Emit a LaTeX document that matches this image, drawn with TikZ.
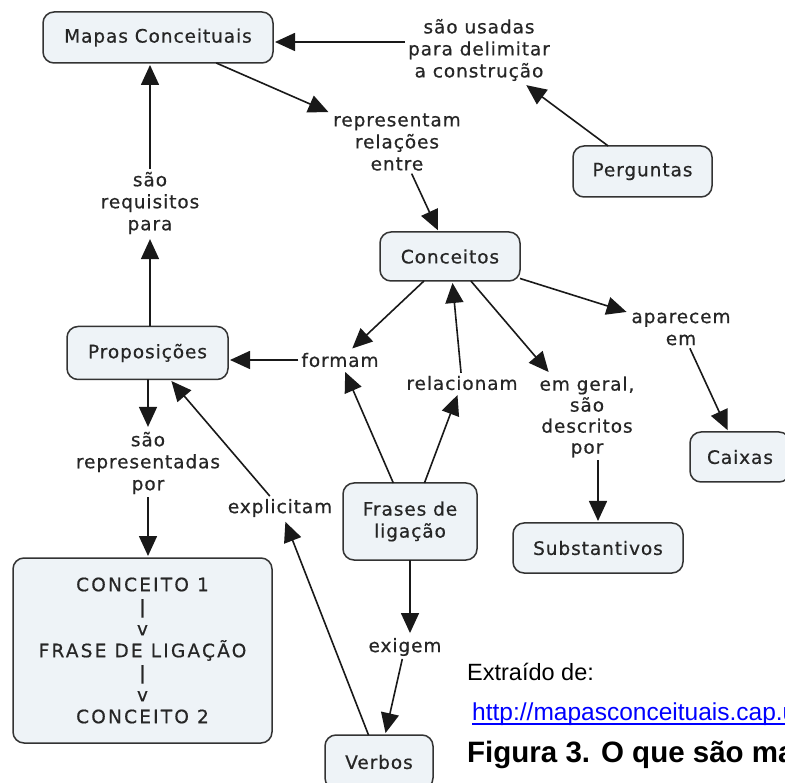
\documentclass[tikz,border=0pt]{standalone}
\usepackage{fontspec}
\setmainfont{DejaVu Sans}
\newfontfamily\cmapfont[LetterSpace=5,FakeBold=0.6]{DejaVu Sans}
\newfontfamily\capsfont[LetterSpace=12,FakeBold=0.6]{DejaVu Sans}
\newfontfamily\arialfont{Liberation Sans}
\usetikzlibrary{arrows.meta}
\definecolor{boxfill}{HTML}{EEF3F7}
\definecolor{boxline}{HTML}{333333}
\definecolor{txt}{HTML}{262626}
\definecolor{linkblue}{RGB}{0,0,255}
\begin{document}
\begin{tikzpicture}[x=1pt,y=-1pt,
  cbox/.style={draw=boxline, line width=1.5pt, fill=boxfill, rounded corners=11pt,
    inner sep=0pt, outer sep=0pt, align=center, text=txt,
    font=\cmapfont\fontsize{18.5}{22}\selectfont},
  lbl/.style={inner sep=3pt, outer sep=0pt, align=center, text=txt,
    font=\cmapfont\fontsize{18.5}{22}\selectfont},
  arr/.style={line width=1.6pt, draw=black!90, -{Triangle[length=20pt,width=18pt]}, shorten >=2pt}
]
\clip (0,0) rectangle (785,783);
\fill[white] (0,0) rectangle (785,783);

% concept boxes
\node[cbox, minimum width=230pt, minimum height=51pt] (mapas) at (158,37.5) {Mapas Conceituais};
\node[cbox, minimum width=139pt, minimum height=51pt] (perg) at (642.5,171.5) {Perguntas};
\node[cbox, minimum width=140pt, minimum height=49pt] (conc) at (450,256.5) {Conceitos};
\node[cbox, minimum width=161pt, minimum height=53pt] (prop) at (147.5,353) {Proposições};
\node[cbox, minimum width=100pt, minimum height=50pt] (caixas) at (740,457) {Caixas};
\node[cbox, minimum width=134pt, minimum height=77pt] (frases) at (410,521.5) {Frases de\\ligação};
\node[cbox, minimum width=170pt, minimum height=50pt] (subst) at (598,548) {Substantivos};
\node[cbox, minimum width=259pt, minimum height=185pt, font=\capsfont\fontsize{18.5}{22}\selectfont] (model) at (142.5,650.5)
  {CONCEITO 1\\|\\v\\FRASE DE LIGAÇÃO\\|\\v\\CONCEITO 2};
\node[cbox, minimum width=108pt, minimum height=54pt] (verbos) at (379,762) {Verbos};

% linking phrases
\node[lbl] (usadas) at (479,50) {são usadas\\para delimitar\\a construção};
\node[lbl] (repr) at (397,142) {representam\\relações\\entre};
\node[lbl] (requis) at (150,203) {são\\requisitos\\para};
\node[lbl] (formam) at (340,360) {formam};
\node[lbl] (relac) at (462,383) {relacionam};
\node[lbl] (aparec) at (681,329) {aparecem\\em};
\node[lbl, font=\cmapfont\fontsize{18.5}{21}\selectfont] (emgeral) at (587,417) {em geral,\\são\\descritos\\por};
\node[lbl] (reprpor) at (148,463) {são\\representadas\\por};
\node[lbl] (explic) at (280,508) {explicitam};
\node[lbl] (exigem) at (405,647) {exigem};

% connectors
\draw[arr] ([yshift=8pt]usadas.west) -- ([yshift=8pt]usadas.west -| mapas.east);
\draw[arr] (perg) -- (usadas);
\draw[arr] (mapas) -- (repr);
\draw[arr] (repr) -- (conc);
\draw[arr] (conc) -- (aparec);
\draw[arr] (aparec) -- (caixas);
\draw[arr] (conc) -- (formam);
\draw[arr] (relac) -- (conc);
\draw[arr] (conc) -- (emgeral);
\draw[arr] (subst.north |- emgeral.south) -- (subst.north);
\draw[arr] (formam.west) -- (formam.west -| prop.east);
\draw[arr] (frases) -- (formam);
\draw[arr] (frases) -- (relac);
\draw[arr] (frases.south) -- (frases.south |- exigem.north);
\draw[arr] (exigem) -- (verbos);
\draw[arr] (verbos) -- (explic);
\draw[arr] (explic) -- (prop);
\draw[arr] (prop.north -| requis.south) -- (requis.south);
\draw[arr] (requis.north) -- (requis.north |- mapas.south);
\draw[arr] (prop.south -| reprpor.north) -- (reprpor.north);
\draw[arr] (reprpor.south) -- (reprpor.south |- model.north);

% source note
\node[anchor=base west, inner sep=0pt, font=\arialfont\fontsize{23.5}{28}\selectfont] (src) at (467,680) {Extraído de:};
\node[anchor=base west, inner sep=0pt, text=linkblue, font=\arialfont\fontsize{24.5}{28}\selectfont] (url) at (472,720) {http://mapasconceituais.cap.u};
\draw[linkblue, line width=1.3pt] ([yshift=-4pt]url.base west) -- ([yshift=-4pt]url.base east);
\node[anchor=base west, inner sep=0pt, font=\arialfont\bfseries\fontsize{29.5}{32}\selectfont] (fig) at (467,762) {Figura 3. O que são ma};
\end{tikzpicture}
\end{document}
